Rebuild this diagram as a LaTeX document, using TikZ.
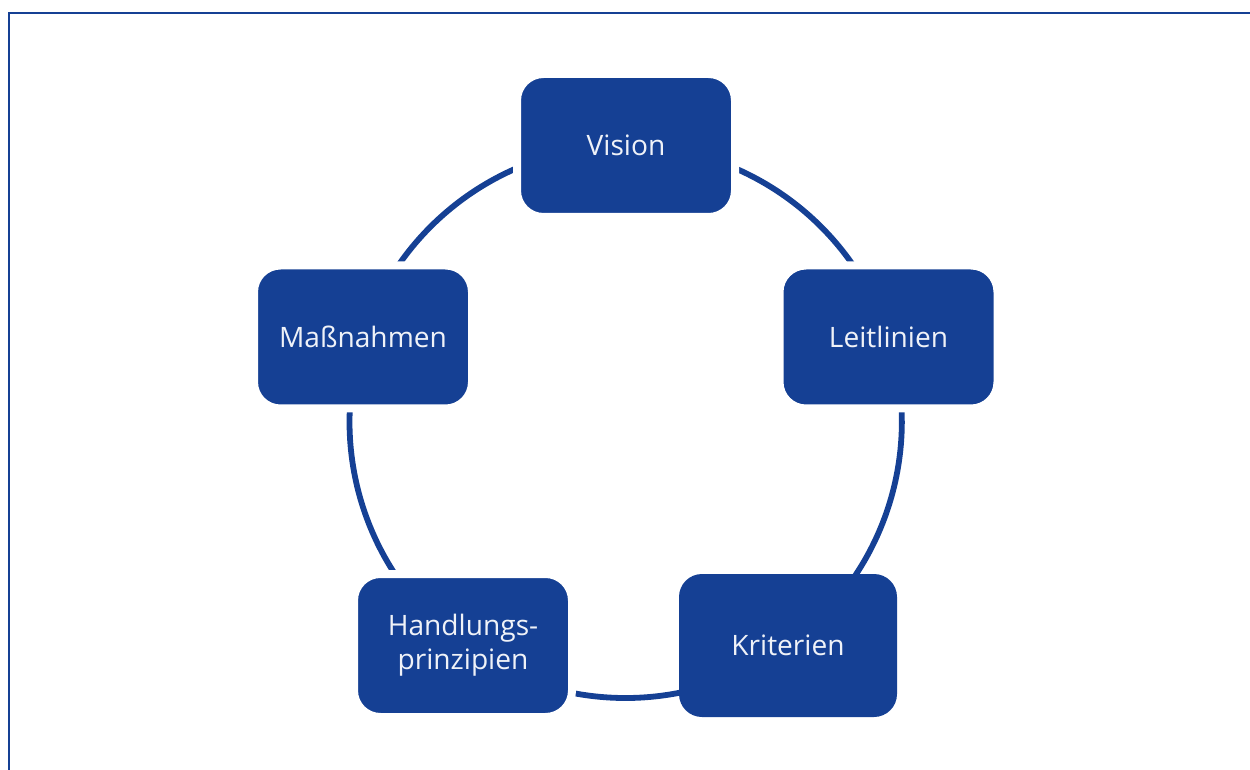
\documentclass[tikz,border=0pt]{standalone}
\usepackage{fontspec}
\setmainfont{Open Sans}
\usetikzlibrary{positioning, backgrounds}
\definecolor{navy}{RGB}{21,64,148}

\begin{document}
\begin{tikzpicture}[
  font=\fontsize{16}{19.4}\selectfont,
  box/.style={fill=navy, draw=white, line width=1.6mm, text=white!93!navy,
              rounded corners=5.3mm, align=center,
              minimum width=43.6mm, minimum height=28.6mm, inner sep=2pt},
  bigbox/.style={box, draw=none, rounded corners=4.6mm},
  ring/.style={draw=navy, line width=3.3pt, bend left=36, looseness=0.94},
]
\useasboundingbox (0,0) rectangle (25,15.38);
\draw[navy, line width=1.6pt] (0.18,-0.2) -- (0.18,15.12) -- (25.2,15.12);

\node[box]    (vis)  at (12.52,12.47) {Vision};
\node[box]    (leit) at (17.77,8.64)  {Leitlinien};
\node[bigbox] (krit) at (15.76,2.47)  {Kriterien};
\node[box]    (hand) at (9.26,2.47)   {Handlungs-\\prinzipien};
\node[box]    (mass) at (7.26,8.64)   {Maßnahmen};

% ring runs centre to centre behind the boxes
\begin{scope}[on background layer]
\draw[ring] (vis.center)  to (leit.center);
\draw[ring] (leit.center) to (krit.center);
\draw[ring] (krit.center) to (hand.center);
\draw[ring] (hand.center) to (mass.center);
\draw[ring] (mass.center) to (vis.center);
\end{scope}
\end{tikzpicture}
\end{document}
